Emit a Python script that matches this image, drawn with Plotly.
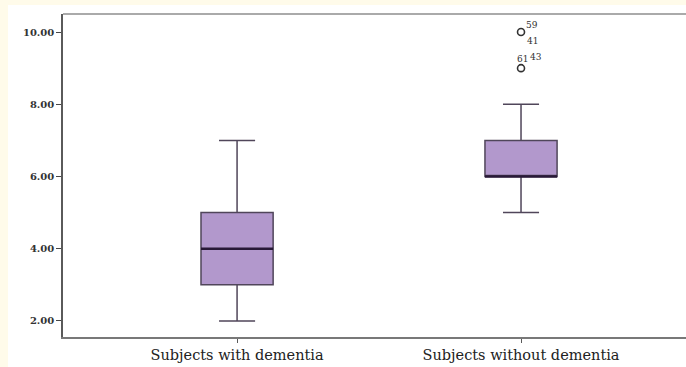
import plotly.graph_objects as go

# ---- data ----
categories = ["Subjects with dementia", "Subjects without dementia"]
positions = [0, 1]
q1 = [3.0, 6.0]
median = [4.0, 6.0]
q3 = [5.0, 7.0]
lower_whisker = [2.0, 5.0]
upper_whisker = [7.0, 8.0]
outlier_values = [10.0, 9.0]
outlier_group = [1, 1]
outlier_labels_above = ["59", "61"]
outlier_labels_right = ["41", "43"]
y_ticks = [2, 4, 6, 8, 10]
y_ticktext = ["2.00", "4.00", "6.00", "8.00", "10.00"]

BOX_W = 0.254
FILL = "rgb(178,152,204)"
EDGE = "rgb(80,70,90)"

fig = go.Figure()

for i, cat in enumerate(categories):
    fig.add_trace(go.Box(
        x=[positions[i]], q1=[q1[i]], median=[median[i]], q3=[q3[i]],
        lowerfence=[lower_whisker[i]], upperfence=[upper_whisker[i]],
        width=BOX_W, whiskerwidth=0.5, fillcolor=FILL,
        line=dict(color=EDGE, width=1.5), boxpoints=False,
        showlegend=False, hoverinfo="skip", name=cat,
    ))
    fig.add_trace(go.Scatter(
        x=[positions[i] - BOX_W / 2, positions[i] + BOX_W / 2],
        y=[median[i], median[i]], mode="lines",
        line=dict(color="rgb(40,25,55)", width=2.5),
        showlegend=False, hoverinfo="skip",
    ))

fig.add_trace(go.Scatter(
    x=[positions[g] for g in outlier_group], y=outlier_values, mode="markers",
    marker=dict(symbol="circle-open", size=7, color="rgb(50,50,50)", line=dict(width=1.6)),
    showlegend=False, hoverinfo="skip",
))

lab_font = dict(size=9, color="#333", family="DejaVu Serif")
annos = []
for g, v, a, r in zip(outlier_group, outlier_values, outlier_labels_above, outlier_labels_right):
    if v == 10.0:
        annos.append(dict(x=positions[g], y=v, text=a, showarrow=False, xshift=11, yshift=7, font=lab_font))
        annos.append(dict(x=positions[g], y=v, text=r, showarrow=False, xshift=11, yshift=-9, font=lab_font))
    else:
        annos.append(dict(x=positions[g], y=v, text=a, showarrow=False, xshift=1, yshift=9, font=lab_font))
        annos.append(dict(x=positions[g], y=v, text=r, showarrow=False, xshift=15, yshift=11, font=lab_font))

fig.update_layout(
    width=686, height=367,
    margin=dict(l=63, r=0, t=14, b=30),
    paper_bgcolor="rgb(255,251,234)",
    plot_bgcolor="white",
    annotations=annos,
    shapes=[
        dict(type="rect", xref="paper", yref="paper", x0=-0.0883, x1=1.01, y0=-0.1, y1=1.028,
             fillcolor="white", line=dict(width=0), layer="below"),
        dict(type="line", xref="paper", yref="paper", x0=0, x1=1, y0=1, y1=1,
             line=dict(color="rgb(170,170,170)", width=2)),
    ],
    xaxis=dict(
        range=[-0.613, 1.581], tickvals=positions, ticktext=categories,
        showline=True, linecolor="rgb(120,120,120)", linewidth=1.5,
        ticks="outside", ticklen=4, tickcolor="rgb(90,90,90)",
        showgrid=False, zeroline=False,
        tickfont=dict(family="DejaVu Serif", size=14.5, color="#222"),
    ),
    yaxis=dict(
        range=[1.556, 10.5], tickvals=y_ticks, ticktext=y_ticktext,
        showline=True, linecolor="rgb(90,90,90)", linewidth=1.5,
        ticks="outside", ticklen=5, tickcolor="rgb(70,70,70)",
        showgrid=False, zeroline=False,
        tickfont=dict(family="DejaVu Serif", size=10, color="#333", weight="bold"),
    ),
)

fig.write_html(
    "out.html",
    config={"displayModeBar": False},
    post_script="document.body.style.margin='0';document.body.style.overflow='hidden';",
)
